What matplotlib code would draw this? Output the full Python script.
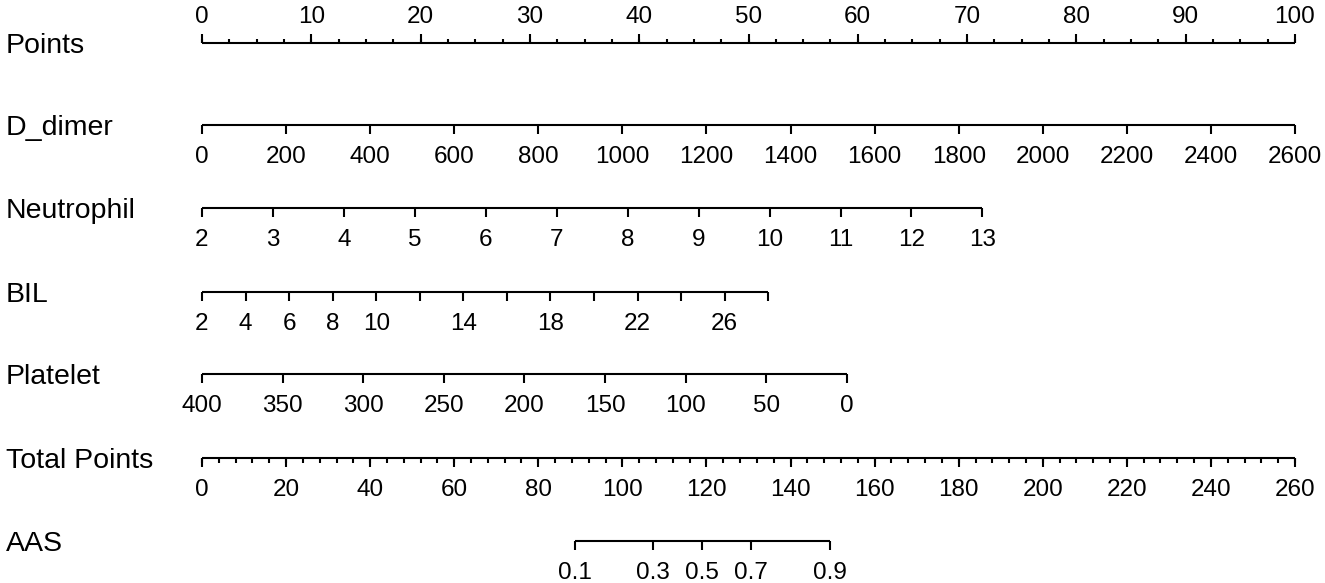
import numpy as np
import matplotlib
matplotlib.use("Agg")
import matplotlib.pyplot as plt

plt.rcParams['font.family'] = ['Liberation Sans', 'DejaVu Sans']

# шкала баллов
points_ticks = np.arange(0, 101, 10)
points_minor = np.arange(0, 100.1, 2.5)

# D_dimer: 0..2600 -> 0..100 баллов
ddimer_range = (0, 2600)
ddimer_pts = (0, 100)
ddimer_ticks = np.arange(0, 2601, 200)

# Neutrophil: 2..13 -> 0..71.4
neut_range = (2, 13)
neut_pts = (0, 71.4)
neut_ticks = np.arange(2, 14, 1)

# BIL: 2..28 -> 0..51.8
bil_range = (2, 28)
bil_pts = (0, 51.8)
bil_ticks = np.arange(2, 29, 2)
bil_labels = [2, 4, 6, 8, 10, 14, 18, 22, 26]

# Platelet: 400..0 -> 0..59.0
plt_range = (400, 0)
plt_pts = (0, 59.0)
plt_ticks = np.arange(400, -1, -50)

# Total Points
total_max = 260
total_ticks = np.arange(0, 261, 20)
total_minor = np.arange(0, 261, 4)

# AAS: вероятность -> суммарные баллы
aas_probs = [0.1, 0.3, 0.5, 0.7, 0.9]
aas_total = [88.7, 107.3, 118.9, 130.6, 149.4]

names = ['Points', 'D_dimer', 'Neutrophil', 'BIL', 'Platelet', 'Total Points', 'AAS']
rows_y = [43, 125, 208, 292, 374, 458, 541]

LW = 1.5
FS_TICK = 17.5
FS_NAME = 20.5
MAJ = 9
MIN = 4.5


def to_pts(v, rng, pts):
    v = np.asarray(v, dtype=float)
    return pts[0] + (v - rng[0]) / (rng[1] - rng[0]) * (pts[1] - pts[0])


def fmt(v):
    if float(v).is_integer():
        return str(int(v))
    return f'{v:g}'


def draw_axis(ax, y, xs, labels, minor=None, above=False):
    xs = np.asarray(xs, dtype=float)
    ax.plot([xs.min(), xs.max()], [y, y], color='black', lw=LW,
            solid_capstyle='butt')
    d = -1 if above else 1
    ax.vlines(xs, y, y + d * MAJ, color='black', lw=LW)
    if minor is not None:
        ax.vlines(minor, y, y + d * MIN, color='black', lw=LW)
    for x, lab in labels:
        if above:
            ax.text(x, y - 20, lab, ha='center', va='baseline', fontsize=FS_TICK)
        else:
            ax.text(x, y + 21, lab, ha='center', va='top', fontsize=FS_TICK)


fig = plt.figure(figsize=(13.25, 5.83), dpi=100)
ax = fig.add_axes([0, 0, 1, 1])
px = 10.93
ax.set_xlim(-202 / px, 100 + 30 / px)
ax.set_ylim(583, 0)
ax.axis('off')

for name, y in zip(names, rows_y):
    ax.text(-196 / px, y, name, ha='left', va='center_baseline', fontsize=FS_NAME)

# Points
draw_axis(ax, rows_y[0], points_ticks,
          [(p, fmt(p)) for p in points_ticks], minor=points_minor, above=True)

# D_dimer
xs = to_pts(ddimer_ticks, ddimer_range, ddimer_pts)
draw_axis(ax, rows_y[1], xs, [(x, fmt(v)) for x, v in zip(xs, ddimer_ticks)])

# Neutrophil
xs = to_pts(neut_ticks, neut_range, neut_pts)
draw_axis(ax, rows_y[2], xs, [(x, fmt(v)) for x, v in zip(xs, neut_ticks)])

# BIL
xs = to_pts(bil_ticks, bil_range, bil_pts)
labs = [(to_pts(v, bil_range, bil_pts), fmt(v)) for v in bil_labels]
draw_axis(ax, rows_y[3], xs, labs)

# Platelet
xs = to_pts(plt_ticks, plt_range, plt_pts)
draw_axis(ax, rows_y[4], xs, [(x, fmt(v)) for x, v in zip(xs, plt_ticks)])

# Total Points
xs = total_ticks / total_max * 100
draw_axis(ax, rows_y[5], xs, [(x, fmt(v)) for x, v in zip(xs, total_ticks)],
          minor=total_minor / total_max * 100)

# AAS
xs = np.array(aas_total) / total_max * 100
draw_axis(ax, rows_y[6], xs, [(x, fmt(v)) for x, v in zip(xs, aas_probs)])

fig.savefig('out.png', dpi=100, facecolor='white')
